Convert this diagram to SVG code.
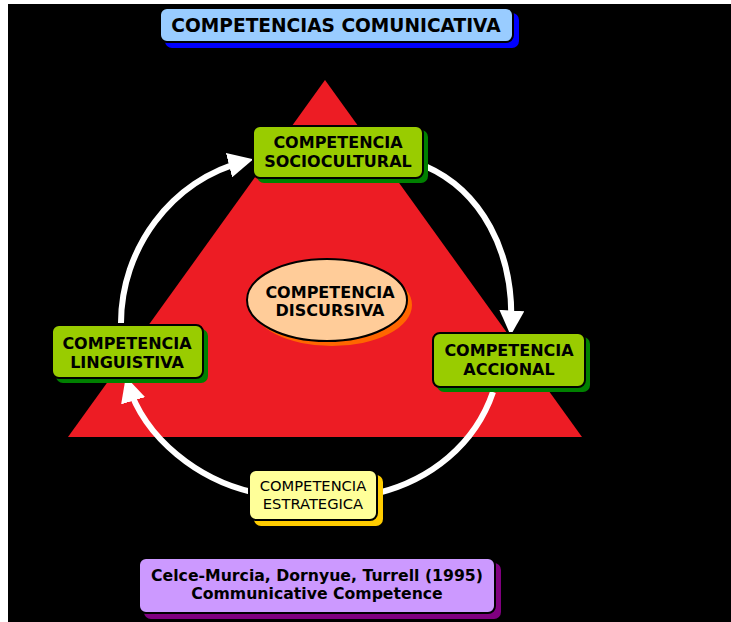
<svg xmlns="http://www.w3.org/2000/svg" width="731" height="622" viewBox="0 0 731 622">
<defs>
<style>
.box{stroke:#000;stroke-width:2}
.t{font-family:"DejaVu Sans","Liberation Sans",sans-serif;font-weight:bold;font-size:16px;fill:#000;text-anchor:middle}
.tn{font-family:"DejaVu Sans","Liberation Sans",sans-serif;font-size:14.7px;fill:#000;text-anchor:middle}
.arc{fill:none;stroke:#fff;stroke-width:6}
</style>
<marker id="ah" viewBox="0 0 10 10" refX="7" refY="5" markerWidth="25" markerHeight="25" markerUnits="userSpaceOnUse" orient="auto">
<path d="M0,0 L10,5 L0,10 z" fill="#fff"/>
</marker>
</defs>
<rect x="8" y="4" width="723" height="618" fill="#000"/>
<polygon points="325,80 582,437 68,437" fill="#ed1c24"/>

<g id="connectors">
<path class="arc" d="M121 323 C121 250 170 180 246 161" marker-end="url(#ah)"/>
<path class="arc" d="M425 166 C480 190 515 250 511 328" marker-end="url(#ah)"/>
<path class="arc" d="M493 392 C475 445 430 480 378 493"/>
<path class="arc" d="M252 492 C200 480 145 440 128 384" marker-end="url(#ah)"/>
</g>

<g id="title">
<rect x="165" y="13" width="354" height="35" rx="7" fill="#0000ff"/>
<rect class="box" x="160" y="8" width="353" height="34" rx="7" fill="#99ccff"/>
<text class="t" x="336" y="32" style="font-size:18.6px">COMPETENCIAS COMUNICATIVA</text>
</g>

<g id="sociocultural">
<rect x="257" y="130" width="171" height="53" rx="7" fill="#008000"/>
<rect class="box" x="253" y="126" width="170" height="52" rx="7" fill="#99cc00"/>
<text class="t" x="338" y="148">COMPETENCIA</text>
<text class="t" x="338" y="167">SOCIOCULTURAL</text>
</g>

<g id="discursiva">
<ellipse cx="332" cy="305" rx="80" ry="41" fill="#ff6600"/>
<ellipse class="box" cx="327" cy="300" rx="80" ry="41" fill="#ffcc99"/>
<text class="t" x="330" y="298">COMPETENCIA</text>
<text class="t" x="330" y="316">DISCURSIVA</text>
</g>

<g id="linguistica">
<rect x="56" y="329" width="152" height="54" rx="7" fill="#008000"/>
<rect class="box" x="52" y="325" width="151" height="53" rx="7" fill="#99cc00"/>
<text class="t" x="127" y="349">COMPETENCIA</text>
<text class="t" x="127" y="368">LINGUISTIVA</text>
</g>

<g id="accional">
<rect x="437" y="337" width="153" height="55" rx="7" fill="#008000"/>
<rect class="box" x="433" y="333" width="152" height="54" rx="7" fill="#99cc00"/>
<text class="t" x="509" y="356">COMPETENCIA</text>
<text class="t" x="509" y="375">ACCIONAL</text>
</g>

<g id="estrategica">
<rect x="254" y="475" width="129" height="51" rx="7" fill="#ffcc00"/>
<rect class="box" x="249" y="470" width="128" height="50" rx="7" fill="#ffff99"/>
<text class="tn" x="313" y="491">COMPETENCIA</text>
<text class="tn" x="313" y="509">ESTRATEGICA</text>
</g>

<g id="reference">
<rect x="144" y="563" width="357" height="56" rx="7" fill="#800080"/>
<rect class="box" x="139" y="558" width="356" height="55" rx="7" fill="#cc99ff"/>
<text class="t" x="317" y="581" style="font-size:15.7px">Celce-Murcia, Dornyue, Turrell (1995)</text>
<text class="t" x="317" y="599" style="font-size:15.7px">Communicative Competence</text>
</g>
</svg>
